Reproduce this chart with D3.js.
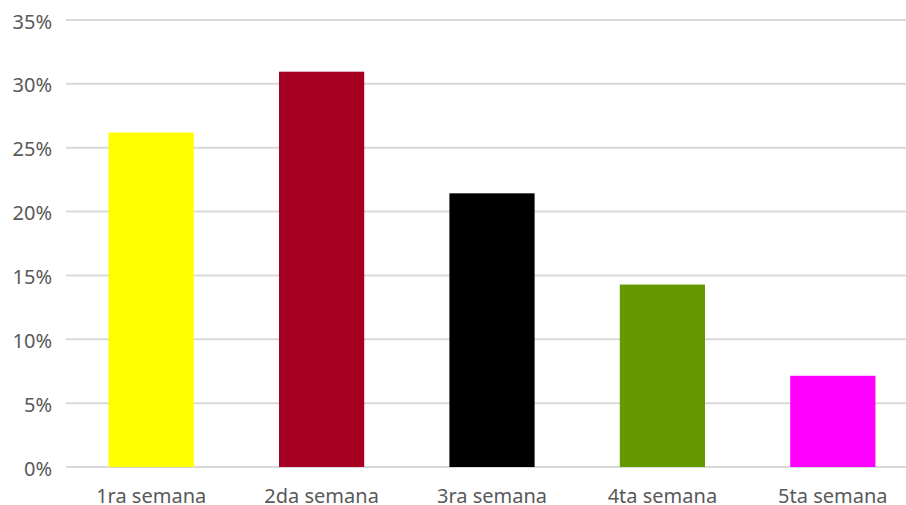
<!DOCTYPE html>
<html>
<head>
<meta charset="utf-8">
<script src="https://cdn.jsdelivr.net/npm/d3@7"></script>
<style>
  html, body { margin: 0; padding: 0; background: #fff; }
  svg { display: block; }
  text { font-family: "Noto Sans", "Open Sans", sans-serif; fill: #595959; }
</style>
</head>
<body>
<svg id="chart" width="906" height="505"></svg>
<script>
// Share of responses per week
const weeks = ["1ra semana", "2da semana", "3ra semana", "4ta semana", "5ta semana"];
const shares = [11 / 42, 13 / 42, 9 / 42, 6 / 42, 3 / 42];
const barColors = ["#FFFF00", "#A50021", "#000000", "#669900", "#FF00FF"];
const yTicks = [0, 0.05, 0.10, 0.15, 0.20, 0.25, 0.30, 0.35];

const svg = d3.select("#chart");
const plot = { left: 66, right: 918, top: 20, bottom: 467 };
const fontSize = 20;

const x = d3.scaleBand()
  .domain(weeks)
  .range([plot.left, plot.right])
  .paddingInner(0.5)
  .paddingOuter(0.25);

const y = d3.scaleLinear()
  .domain([0, 0.35])
  .range([plot.bottom, plot.top]);

// horizontal gridlines
svg.append("g")
  .selectAll("line")
  .data(yTicks)
  .join("line")
  .attr("x1", plot.left)
  .attr("x2", 906)
  .attr("y1", d => y(d))
  .attr("y2", d => y(d))
  .attr("stroke", "#d9d9d9")
  .attr("stroke-width", 2);

// y axis labels
const yAxis = d3.axisLeft(y)
  .tickValues(yTicks)
  .tickFormat(d3.format(".0%"))
  .tickSize(0)
  .tickPadding(14);
const gy = svg.append("g")
  .attr("transform", `translate(${plot.left},0)`)
  .call(yAxis);
gy.select(".domain").remove();
gy.attr("font-family", null).attr("font-size", null);
gy.selectAll("text")
  .attr("font-size", fontSize)
  .attr("dy", "0.4em")
  .attr("fill", "#595959");

// bars
svg.append("g")
  .selectAll("rect")
  .data(weeks)
  .join("rect")
  .attr("x", d => x(d))
  .attr("width", x.bandwidth())
  .attr("y", (d, i) => y(shares[i]))
  .attr("height", (d, i) => y(0) - y(shares[i]))
  .attr("fill", (d, i) => barColors[i]);

// x axis labels
const xAxis = d3.axisBottom(x).tickSize(0).tickPadding(22);
const gx = svg.append("g")
  .attr("transform", `translate(0,${plot.bottom})`)
  .call(xAxis);
gx.select(".domain").remove();
gx.attr("font-family", null).attr("font-size", null);
gx.selectAll("text")
  .attr("font-size", fontSize)
  .attr("fill", "#595959");
</script>
</body>
</html>
